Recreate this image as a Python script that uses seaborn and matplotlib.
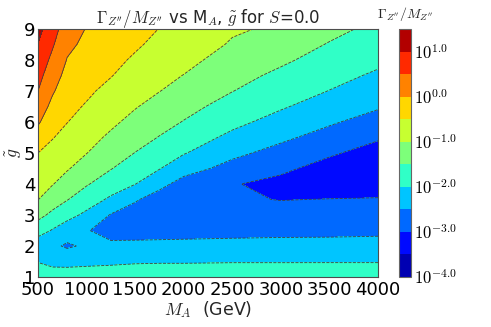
import numpy as np
import matplotlib
matplotlib.use('Agg')
import matplotlib.pyplot as plt
import seaborn as sns

# grid: columns are M_A (GeV), rows are g-tilde
m_a = [500, 650, 800, 1000, 1250, 1500, 1750, 2000, 2500, 3000, 3500, 4000]
g_tilde = [1.0, 1.5, 2.0, 2.5, 3.0, 3.5, 4.0, 4.5, 5.0, 5.5, 6.0, 6.5, 7.0, 7.5, 8.0, 8.5, 9.0]

# log10(Gamma_Z'' / M_Z'') for each M_A column, g-tilde = 1 ... 9
col_500 = [-1.85, -2.01, -2.33, -1.78, -1.36, -0.99, -0.83, -0.67, -0.50, -0.21, 0.06, 0.28, 0.50, 0.66, 0.82, 0.98, 1.14]
col_650 = [-1.82, -2.10, -2.40, -2.04, -1.61, -1.27, -0.98, -0.81, -0.65, -0.48, -0.31, -0.13, 0.05, 0.21, 0.38, 0.55, 0.71]
col_800 = [-1.80, -2.12, -2.57, -2.25, -1.85, -1.48, -1.21, -0.96, -0.81, -0.65, -0.49, -0.38, -0.26, -0.14, -0.02, 0.10, 0.22]
col_1000 = [-1.78, -2.10, -2.42, -2.47, -2.10, -1.77, -1.46, -1.22, -0.99, -0.84, -0.69, -0.54, -0.42, -0.31, -0.21, -0.10, -0.02]
col_1250 = [-1.78, -2.07, -2.40, -2.68, -2.53, -2.08, -1.76, -1.48, -1.28, -1.08, -0.91, -0.77, -0.63, -0.48, -0.36, -0.24, -0.12]
col_1500 = [-1.77, -2.04, -2.38, -2.70, -2.72, -2.45, -1.99, -1.75, -1.51, -1.32, -1.14, -0.97, -0.83, -0.70, -0.57, -0.43, -0.33]
col_1750 = [-1.77, -2.03, -2.37, -2.69, -2.82, -2.72, -2.36, -1.98, -1.75, -1.52, -1.34, -1.17, -0.99, -0.87, -0.75, -0.63, -0.51]
col_2000 = [-1.77, -2.03, -2.36, -2.68, -2.86, -2.88, -2.68, -2.31, -1.97, -1.75, -1.52, -1.35, -1.18, -1.01, -0.87, -0.72, -0.58]
col_2500 = [-1.76, -2.02, -2.35, -2.65, -2.85, -2.96, -2.97, -2.66, -2.39, -2.11, -1.88, -1.68, -1.49, -1.34, -1.19, -1.05, -0.94]
col_3000 = [-1.76, -2.02, -2.34, -2.63, -2.86, -3.01, -3.13, -2.91, -2.66, -2.41, -2.17, -1.95, -1.77, -1.60, -1.42, -1.25, -1.08]
col_3500 = [-1.75, -2.02, -2.34, -2.62, -2.84, -2.99, -3.20, -3.17, -2.94, -2.68, -2.44, -2.22, -2.01, -1.85, -1.69, -1.53, -1.37]
col_4000 = [-1.75, -2.02, -2.33, -2.60, -2.82, -2.98, -3.15, -3.28, -3.18, -2.95, -2.70, -2.45, -2.26, -2.07, -1.90, -1.76, -1.62]

levels = [-4.0, -3.5, -3.0, -2.5, -2.0, -1.5, -1.0, -0.5, 0.0, 0.5, 1.0, 1.5]
cbar_ticks = [-4.0, -3.0, -2.0, -1.0, 0.0, 1.0]
x_ticks = [500, 1000, 1500, 2000, 2500, 3000, 3500, 4000]
y_ticks = [1, 2, 3, 4, 5, 6, 7, 8, 9]

sns.set_style('white')
plt.rcParams['font.family'] = ['DejaVu Sans']
plt.rcParams['mathtext.fontset'] = 'cm'
plt.rcParams['mathtext.default'] = 'it'

width = np.column_stack([col_500, col_650, col_800, col_1000, col_1250, col_1500,
                         col_1750, col_2000, col_2500, col_3000, col_3500, col_4000])

fig = plt.figure(figsize=(4.91, 3.27), dpi=100)
ax = fig.add_axes([38 / 491, 50 / 327, 340 / 491, 248 / 327])
cax = fig.add_axes([399 / 491, 50 / 327, 12 / 491, 248 / 327])

cf = ax.contourf(m_a, g_tilde, width, levels=levels, cmap='jet')
ax.contour(m_a, g_tilde, width, levels=levels, colors='0.25', linewidths=0.6)

ax.set_xlim(500, 4000)
ax.set_ylim(1, 9)
ax.set_xticks(x_ticks)
ax.set_yticks(y_ticks)
ax.tick_params(direction='in', top=True, right=True, length=4, width=0.6,
               labelsize=13, color='0.3', labelcolor='black')
ax.tick_params(axis='y', pad=2)
ax.tick_params(axis='x', pad=3)
for sp in ax.spines.values():
    sp.set_color('0.3')
    sp.set_linewidth(0.8)

ax.set_title(r"$\Gamma_{Z''}/M_{Z''}$ vs M$_A$, $\tilde{g}$ for $S$=0.0", fontsize=12, pad=4)
ax.set_xlabel(r"$M_A$  (GeV)", fontsize=12.5, labelpad=0)
ax.set_ylabel(r"$\tilde{g}$", fontsize=12.5, labelpad=0)

cb = fig.colorbar(cf, cax=cax, ticks=cbar_ticks)
cb.ax.set_yticklabels([r'$10^{%.1f}$' % t for t in cbar_ticks])
cb.ax.tick_params(length=0, labelsize=12, pad=2, labelcolor='black')
cb.outline.set_edgecolor('0.4')
cb.outline.set_linewidth(0.8)
cb.ax.set_title(r"$\Gamma_{Z''}/M_{Z''}$", fontsize=10, pad=8)

fig.savefig('out.png', dpi=100)
